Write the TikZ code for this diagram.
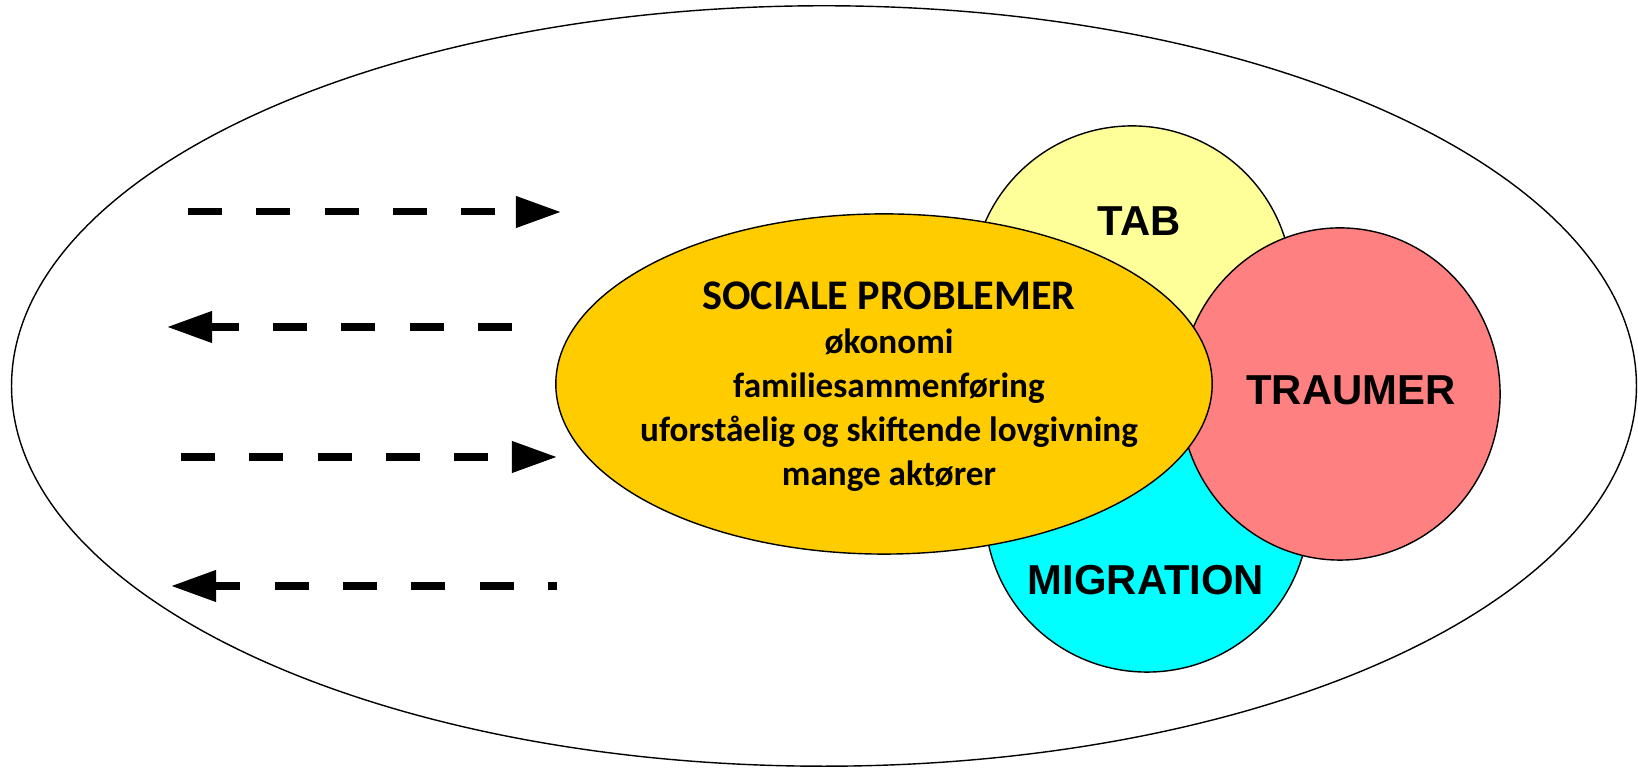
\documentclass[tikz,border=0pt]{standalone}
\usepackage{fontspec}
\setmainfont{Liberation Sans}
\newfontfamily\calibri{Carlito}
\usetikzlibrary{shapes.geometric, arrows.meta}

\definecolor{tabgul}{HTML}{FFFF99}
\definecolor{traumerrod}{HTML}{FF8080}
\definecolor{migrationcyan}{HTML}{00FFFF}
\definecolor{socialorange}{HTML}{FFCC00}

\begin{document}
\begin{tikzpicture}[x=0.01cm, y=-0.01cm,
	felt/.style={ellipse, draw=black, line width=0.4pt, inner sep=0pt},
	overskrift/.style={font=\bfseries\fontsize{11.9}{14}\selectfont},
	pil/.style={line width=2pt, dash pattern=on 0.34cm off 0.343cm, -{Triangle[length=0.45cm, width=0.3cm]}}]

	\useasboundingbox (0,0) rectangle (1638,768);

	\node[felt, minimum width=16.24cm, minimum height=7.6cm] (omverden) at (824,386) {};

	\node[felt, fill=tabgul, minimum size=3.2cm] (tab) at (1132,286) {};
	\node[felt, fill=migrationcyan, minimum size=3.24cm] (migration) at (1147,510) {};
	\node[felt, fill=traumerrod, minimum width=3.2cm, minimum height=3.32cm] (traumer) at (1340,394) {};
	\node[felt, fill=socialorange, minimum width=6.56cm, minimum height=3.4cm] (sociale) at (884,384) {};

	\node[overskrift] (tabtekst) at (1139,221) {TAB};
	\node[overskrift] (traumertekst) at (1351,390) {TRAUMER};
	\node[overskrift] (migrationtekst) at (1146,580) {MIGRATION};
	\node[align=center, font=\calibri\bfseries\fontsize{10}{12.5}\selectfont] (socialetekst) at (889,387)
		{{\fontsize{12}{12.5}\selectfont SOCIALE PROBLEMER}\\ økonomi\\ familiesammenføring\\ uforståelig og skiftende lovgivning\\ mange aktører};

	\coordinate (p1a) at (188,212);
	\coordinate (p1b) at (561,212);
	\coordinate (p2a) at (512,327);
	\coordinate (p2b) at (167,327);
	\coordinate (p3a) at (181,457);
	\coordinate (p3b) at (557,457);
	\coordinate (p4a) at (557,586);
	\coordinate (p4b) at (171,586);

	\draw[pil] (p1a) -- (p1b);
	\draw[pil] (p2a) -- (p2b);
	\draw[pil] (p3a) -- (p3b);
	\draw[pil, dash phase=0.25cm] (p4a) -- (p4b);
\end{tikzpicture}
\end{document}
